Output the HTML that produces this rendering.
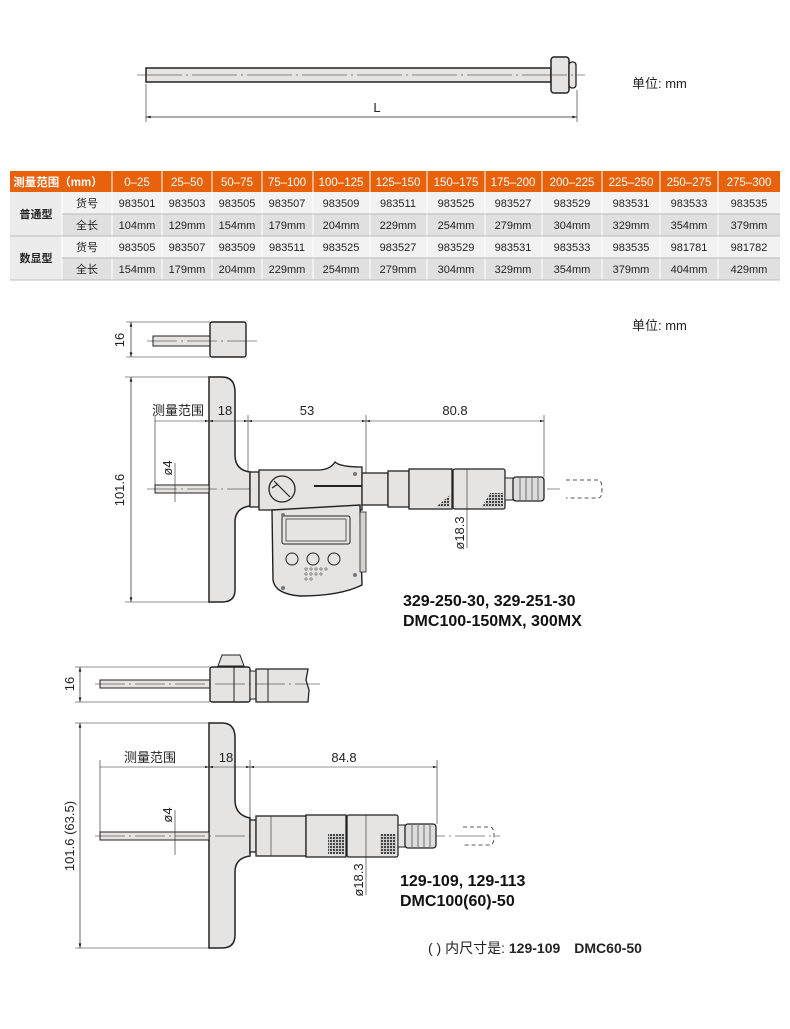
<!DOCTYPE html>
<html><head><meta charset="utf-8"><style>
html,body{margin:0;padding:0;background:#fff}
svg{display:block}
text{font-family:"Liberation Sans","Noto Sans CJK SC",sans-serif}
</style></head><body>
<svg width="790" height="1029" viewBox="0 0 790 1029" xmlns="http://www.w3.org/2000/svg">
<defs>
<marker id="a" viewBox="0 0 10 6" refX="10" refY="3" markerWidth="9" markerHeight="4" orient="auto-start-reverse"><path d="M0,0 L10,3 L0,6z" fill="#222"/></marker>
<pattern id="kn" width="3" height="3" patternUnits="userSpaceOnUse"><rect width="3" height="3" fill="#ccc"/><rect width="2" height="2" fill="#444"/></pattern>
</defs>
<g stroke="#222" stroke-width="1" fill="none">
<rect x="146" y="68" width="405" height="14" fill="#e6e3e3" stroke-width="1.5"/>
<rect x="551" y="57" width="18" height="36" rx="3" fill="#e6e3e3" stroke-width="1.5"/>
<rect x="569" y="62" width="7" height="26" rx="3" fill="#e6e3e3" stroke-width="1.3"/>
<line x1="137" y1="75" x2="585" y2="75" stroke-width="0.6" stroke-dasharray="45,4,2,4"/>
<line x1="146" y1="84" x2="146" y2="122" stroke-width="0.6"/>
<line x1="577" y1="90" x2="577" y2="122" stroke-width="0.6"/>
<line x1="146" y1="117" x2="577" y2="117" stroke-width="0.7" marker-start="url(#a)" marker-end="url(#a)"/>

<rect x="153" y="336" width="57" height="10" fill="#e6e3e3"/>
<rect x="210" y="322" width="36" height="35" rx="2" fill="#e6e3e3" stroke-width="1.4"/>
<line x1="147" y1="341" x2="258" y2="341" stroke-width="0.6" stroke-dasharray="30,4,2,4"/>
<line x1="126" y1="322" x2="210" y2="322" stroke-width="0.6"/>
<line x1="126" y1="357" x2="210" y2="357" stroke-width="0.6"/>
<line x1="131" y1="322" x2="131" y2="357" stroke-width="0.7" marker-start="url(#a)" marker-end="url(#a)"/>

<path d="M209,377 L222,377 Q235,377 235,392 L235,455 Q235,470 250,472 L250,506 Q235,508 235,522 L235,590 Q235,602 222,602 L209,602 Z" fill="#e6e3e3" stroke-width="1.5"/>
<rect x="155" y="485" width="54" height="8" fill="#e6e3e3"/>
<line x1="147" y1="489" x2="560" y2="489" stroke-width="0.6" stroke-dasharray="30,4,2,4"/>
<line x1="125" y1="377" x2="209" y2="377" stroke-width="0.6"/>
<line x1="125" y1="602" x2="209" y2="602" stroke-width="0.6"/>
<line x1="131" y1="377" x2="131" y2="602" stroke-width="0.7" marker-start="url(#a)" marker-end="url(#a)"/>
<rect x="250" y="472" width="9" height="35" fill="#e6e3e3" stroke-width="1.3"/>
<path d="M259,470 L318,470 Q330,470 335,462 Q340,467 362,467 L362,510 L259,510 Z" fill="#e6e3e3" stroke-width="1.3"/>
<circle cx="282" cy="489" r="13" fill="#e6e3e3" stroke-width="1.3"/>
<path d="M274,481 L290,497 M272,488 L278,484" stroke-width="1.2"/>
<line x1="314" y1="486" x2="362" y2="486" stroke-width="2"/>
<path d="M272,510 L360,505 L362,585 Q340,596 300,596 Q275,594 273,580 Z" fill="#e6e3e3" stroke-width="1.4"/>
<rect x="282" y="516" width="68" height="28" rx="2" fill="#e6e3e3"/>
<rect x="286" y="519" width="60" height="22" fill="#e6e3e3" stroke-width="0.7"/>
<rect x="360" y="512" width="6" height="60" fill="#d5d2d2" stroke-width="0.8"/>
<ellipse cx="292" cy="559" rx="6" ry="6"/><ellipse cx="313" cy="559" rx="6" ry="6"/><ellipse cx="334" cy="559" rx="6" ry="6"/>
<g fill="#777" stroke="none"><circle cx="283" cy="515" r="2"/><circle cx="355" cy="474" r="2"/><circle cx="355" cy="575" r="2"/><circle cx="283" cy="588" r="2"/></g>
<g stroke-width="0.5"><circle cx="306" cy="569" r="1.2"/><circle cx="311" cy="569" r="1.2"/><circle cx="316" cy="569" r="1.2"/><circle cx="321" cy="569" r="1.2"/><circle cx="326" cy="569" r="1.2"/><circle cx="306" cy="574" r="1.2"/><circle cx="311" cy="574" r="1.2"/><circle cx="316" cy="574" r="1.2"/><circle cx="321" cy="574" r="1.2"/><circle cx="306" cy="579" r="1.2"/><circle cx="311" cy="579" r="1.2"/></g>
<rect x="362" y="473" width="26" height="32" fill="#e6e3e3" stroke-width="1.3"/>
<rect x="388" y="471" width="21" height="36" fill="#e6e3e3" stroke-width="1.3"/>
<rect x="409" y="469" width="43" height="40" fill="#e6e3e3" stroke-width="1.3"/>
<rect x="453" y="469" width="52" height="40" rx="2" fill="#e6e3e3" stroke-width="1.3"/>
<path d="M436,507 L450,507 L450,495 Z" fill="url(#kn)" stroke="none"/>
<path d="M482,507 L503,507 L503,493 L490,493 Z" fill="url(#kn)" stroke="none"/>
<rect x="505" y="478" width="8" height="22" fill="#e6e3e3"/>
<rect x="513" y="477" width="31" height="24" rx="3" fill="#ddd" stroke-width="1.3"/>
<g stroke-width="0.6"><line x1="520" y1="478" x2="520" y2="500"/><line x1="526" y1="478" x2="526" y2="500"/><line x1="532" y1="478" x2="532" y2="500"/><line x1="538" y1="478" x2="538" y2="500"/></g>
<path d="M566,480 L598,480 Q602,480 602,489 Q602,498 598,498 L566,498" stroke-width="0.8" stroke-dasharray="4,3"/>
<line x1="155" y1="415" x2="155" y2="485" stroke-width="0.6"/>
<line x1="248" y1="415" x2="248" y2="472" stroke-width="0.6"/>
<line x1="366" y1="415" x2="366" y2="473" stroke-width="0.6"/>
<line x1="544" y1="415" x2="544" y2="477" stroke-width="0.6"/>
<line x1="155" y1="421" x2="209" y2="421" stroke-width="0.6" marker-end="url(#a)"/>
<line x1="209" y1="421" x2="248" y2="421" stroke-width="0.6" marker-start="url(#a)" marker-end="url(#a)"/>
<line x1="248" y1="421" x2="366" y2="421" stroke-width="0.6" marker-start="url(#a)" marker-end="url(#a)"/>
<line x1="366" y1="421" x2="544" y2="421" stroke-width="0.6" marker-start="url(#a)" marker-end="url(#a)"/>
<line x1="175" y1="463" x2="175" y2="502" stroke-width="0.6"/>
<line x1="467" y1="469" x2="467" y2="548" stroke-width="0.6"/>

<rect x="100" y="680" width="110" height="8" fill="#e6e3e3"/>
<path d="M218,666 L222,655 L240,655 L244,666 Z" fill="#e6e3e3"/>
<rect x="210" y="667" width="40" height="35" rx="2" fill="#e6e3e3" stroke-width="1.4"/>
<line x1="234" y1="667" x2="234" y2="702"/>
<rect x="250" y="671" width="6" height="28" fill="#e6e3e3"/>
<path d="M256,669 L308,669 L306,680 L309,690 L308,702 L256,702 Z" fill="#e6e3e3" stroke-width="1.3"/>
<line x1="268" y1="669" x2="268" y2="702"/>
<line x1="95" y1="684" x2="320" y2="684" stroke-width="0.6" stroke-dasharray="30,4,2,4"/>
<line x1="75" y1="667" x2="210" y2="667" stroke-width="0.6"/>
<line x1="75" y1="702" x2="210" y2="702" stroke-width="0.6"/>
<line x1="80" y1="667" x2="80" y2="702" stroke-width="0.7" marker-start="url(#a)" marker-end="url(#a)"/>

<path d="M209,723 L222,723 Q235,723 235,738 L235,800 Q235,815 250,818 L250,856 Q235,858 235,872 L235,935 Q235,948 222,948 L209,948 Z" fill="#e6e3e3" stroke-width="1.5"/>
<rect x="100" y="832" width="109" height="8" fill="#e6e3e3"/>
<line x1="95" y1="836" x2="500" y2="836" stroke-width="0.6" stroke-dasharray="30,4,2,4"/>
<line x1="75" y1="723" x2="209" y2="723" stroke-width="0.6"/>
<line x1="75" y1="948" x2="209" y2="948" stroke-width="0.6"/>
<line x1="80" y1="723" x2="80" y2="948" stroke-width="0.7" marker-start="url(#a)" marker-end="url(#a)"/>
<rect x="250" y="820" width="6" height="32" fill="#e6e3e3" stroke-width="1.3"/>
<rect x="256" y="816" width="50" height="40" fill="#e6e3e3" stroke-width="1.3"/>
<line x1="271" y1="816" x2="271" y2="856" stroke-width="0.6"/>
<rect x="306" y="815" width="40" height="42" fill="#e6e3e3" stroke-width="1.3"/>
<rect x="347" y="815" width="51" height="42" rx="2" fill="#e6e3e3" stroke-width="1.3"/>
<rect x="328" y="834" width="16" height="20" fill="url(#kn)" stroke="none"/>
<rect x="380" y="834" width="16" height="20" fill="url(#kn)" stroke="none"/>
<rect x="398" y="825" width="7" height="22" fill="#e6e3e3"/>
<rect x="405" y="824" width="31" height="24" rx="3" fill="#ddd" stroke-width="1.3"/>
<g stroke-width="0.6"><line x1="412" y1="825" x2="412" y2="847"/><line x1="418" y1="825" x2="418" y2="847"/><line x1="424" y1="825" x2="424" y2="847"/><line x1="430" y1="825" x2="430" y2="847"/></g>
<path d="M463,827 L490,827 Q494,827 494,836 Q494,845 490,845 L463,845" stroke-width="0.8" stroke-dasharray="4,3"/>
<line x1="100" y1="760" x2="100" y2="832" stroke-width="0.6"/>
<line x1="250" y1="760" x2="250" y2="820" stroke-width="0.6"/>
<line x1="437" y1="760" x2="437" y2="824" stroke-width="0.6"/>
<line x1="100" y1="767" x2="209" y2="767" stroke-width="0.6" marker-end="url(#a)"/>
<line x1="209" y1="767" x2="250" y2="767" stroke-width="0.6" marker-start="url(#a)" marker-end="url(#a)"/>
<line x1="250" y1="767" x2="437" y2="767" stroke-width="0.6" marker-start="url(#a)" marker-end="url(#a)"/>
<line x1="175" y1="810" x2="175" y2="855" stroke-width="0.6"/>
<line x1="366" y1="815" x2="366" y2="895" stroke-width="0.6"/>
</g>

<g font-size="13" fill="#222">
<text x="377" y="112" text-anchor="middle">L</text>
<text x="632" y="88">单位: mm</text>
<text x="632" y="330">单位: mm</text>
<text x="124" y="340" transform="rotate(-90 124 340)" text-anchor="middle">16</text>
<text x="124" y="490" transform="rotate(-90 124 490)" text-anchor="middle">101.6</text>
<text x="178" y="415" text-anchor="middle">测量范围</text>
<text x="225" y="415" text-anchor="middle">18</text>
<text x="307" y="415" text-anchor="middle">53</text>
<text x="455" y="415" text-anchor="middle">80.8</text>
<text x="172" y="468" transform="rotate(-90 172 468)" text-anchor="middle">ø4</text>
<text x="464" y="533" transform="rotate(-90 464 533)" text-anchor="middle">ø18.3</text>
<text x="74" y="684" transform="rotate(-90 74 684)" text-anchor="middle">16</text>
<text x="74" y="836" transform="rotate(-90 74 836)" text-anchor="middle">101.6 (63.5)</text>
<text x="150" y="762" text-anchor="middle">测量范围</text>
<text x="226" y="762" text-anchor="middle">18</text>
<text x="344" y="762" text-anchor="middle">84.8</text>
<text x="172" y="815" transform="rotate(-90 172 815)" text-anchor="middle">ø4</text>
<text x="363" y="880" transform="rotate(-90 363 880)" text-anchor="middle">ø18.3</text>
<text x="428" y="953" font-size="14">( ) 内尺寸是: <tspan font-weight="bold">129-109　DMC60-50</tspan></text>
</g>
<g font-size="16" font-weight="bold" fill="#111">
<text x="403" y="606">329-250-30, 329-251-30</text>
<text x="403" y="626">DMC100-150MX, 300MX</text>
<text x="400" y="886">129-109, 129-113</text>
<text x="400" y="906">DMC100(60)-50</text>
</g>

<g font-size="11" text-anchor="middle" fill="#222">
<rect x="10" y="171" width="770" height="21" fill="#e8620c"/>
<rect x="10" y="192" width="770" height="22" fill="#f2f2f2"/>
<rect x="10" y="214" width="770" height="22" fill="#e0e0e0"/>
<rect x="10" y="236" width="770" height="22" fill="#f2f2f2"/>
<rect x="10" y="258" width="770" height="22" fill="#e0e0e0"/>
<rect x="10" y="192" width="52" height="88" fill="#ececec"/>
<g stroke="#fff" stroke-width="1">
<line x1="112" y1="171" x2="112" y2="280"/><line x1="162" y1="171" x2="162" y2="280"/><line x1="212" y1="171" x2="212" y2="280"/><line x1="262" y1="171" x2="262" y2="280"/><line x1="313" y1="171" x2="313" y2="280"/><line x1="370" y1="171" x2="370" y2="280"/><line x1="427" y1="171" x2="427" y2="280"/><line x1="485" y1="171" x2="485" y2="280"/><line x1="542" y1="171" x2="542" y2="280"/><line x1="602" y1="171" x2="602" y2="280"/><line x1="660" y1="171" x2="660" y2="280"/><line x1="718" y1="171" x2="718" y2="280"/>
<line x1="62" y1="192" x2="62" y2="280"/>
</g>
<g stroke="#bbb" stroke-width="1"><line x1="10" y1="236" x2="780" y2="236"/><line x1="10" y1="280" x2="780" y2="280"/><line x1="62" y1="214" x2="780" y2="214"/><line x1="62" y1="258" x2="780" y2="258"/></g>
<g fill="#fff" font-size="11.5">
<text x="58" y="186" font-weight="bold">测量范围（mm）</text>
<text x="137" y="186">0–25</text><text x="187" y="186">25–50</text><text x="237" y="186">50–75</text><text x="287" y="186">75–100</text><text x="341" y="186">100–125</text><text x="398" y="186">125–150</text><text x="456" y="186">150–175</text><text x="513" y="186">175–200</text><text x="572" y="186">200–225</text><text x="631" y="186">225–250</text><text x="689" y="186">250–275</text><text x="749" y="186">275–300</text>
</g>
<text x="36" y="218" font-weight="bold">普通型</text>
<text x="36" y="262" font-weight="bold">数显型</text>
<text x="87" y="207">货号</text><text x="87" y="229">全长</text><text x="87" y="251">货号</text><text x="87" y="273">全长</text>
<g>
<text x="137" y="207">983501</text><text x="187" y="207">983503</text><text x="237" y="207">983505</text><text x="287" y="207">983507</text><text x="341" y="207">983509</text><text x="398" y="207">983511</text><text x="456" y="207">983525</text><text x="513" y="207">983527</text><text x="572" y="207">983529</text><text x="631" y="207">983531</text><text x="689" y="207">983533</text><text x="749" y="207">983535</text>
<text x="137" y="229">104mm</text><text x="187" y="229">129mm</text><text x="237" y="229">154mm</text><text x="287" y="229">179mm</text><text x="341" y="229">204mm</text><text x="398" y="229">229mm</text><text x="456" y="229">254mm</text><text x="513" y="229">279mm</text><text x="572" y="229">304mm</text><text x="631" y="229">329mm</text><text x="689" y="229">354mm</text><text x="749" y="229">379mm</text>
<text x="137" y="251">983505</text><text x="187" y="251">983507</text><text x="237" y="251">983509</text><text x="287" y="251">983511</text><text x="341" y="251">983525</text><text x="398" y="251">983527</text><text x="456" y="251">983529</text><text x="513" y="251">983531</text><text x="572" y="251">983533</text><text x="631" y="251">983535</text><text x="689" y="251">981781</text><text x="749" y="251">981782</text>
<text x="137" y="273">154mm</text><text x="187" y="273">179mm</text><text x="237" y="273">204mm</text><text x="287" y="273">229mm</text><text x="341" y="273">254mm</text><text x="398" y="273">279mm</text><text x="456" y="273">304mm</text><text x="513" y="273">329mm</text><text x="572" y="273">354mm</text><text x="631" y="273">379mm</text><text x="689" y="273">404mm</text><text x="749" y="273">429mm</text>
</g>
</g>
</svg>
</body></html>
